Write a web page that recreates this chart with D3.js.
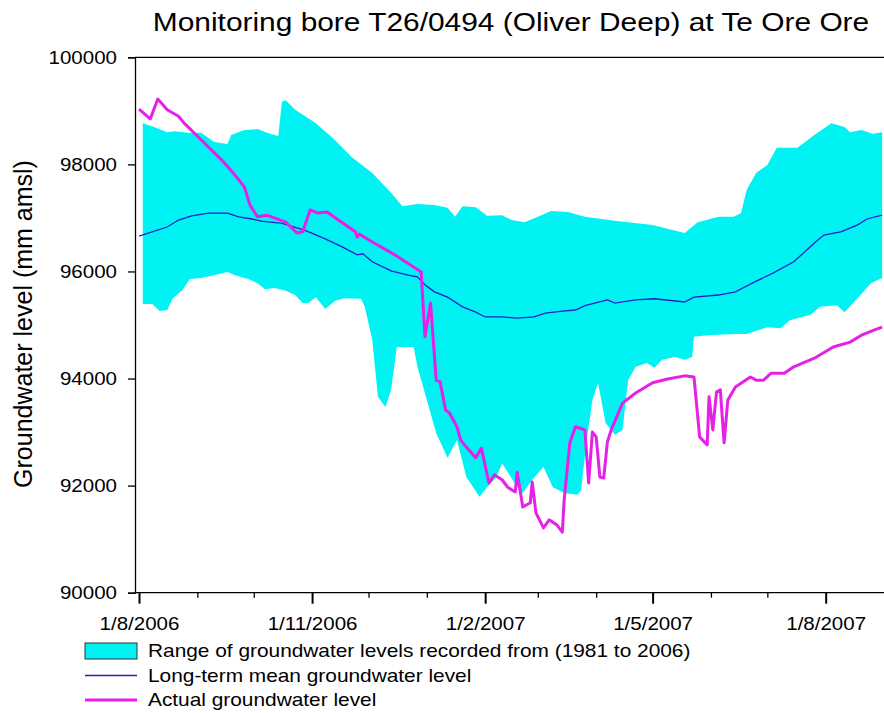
<!DOCTYPE html>
<meta charset="utf-8">
<style>

body {
  margin: 0;
  background: #fff;
}

text {
  font-family: "Liberation Sans", Arial, sans-serif;
  fill: #000;
}

</style>
<div id="chart"></div>
<script src="https://cdn.jsdelivr.net/npm/d3@7"></script>
<script>

var title = "Monitoring bore T26/0494 (Oliver Deep) at Te Ore Ore";
var yLabel = "Groundwater level (mm amsl)";

// days after 1/8/2006, levels in mm amsl
var rangeTopDays = [2, 8, 15, 19, 26, 33, 40, 47, 49, 56, 63, 68, 74, 76, 78, 83, 94, 104, 113, 124,
  134, 140, 148, 157, 164, 168, 172, 179, 185, 193, 198, 205, 212, 219, 228, 237, 255, 273, 290, 297,
  308, 316, 320, 323, 328, 334, 339, 350, 359, 368, 375, 378, 384, 390, 395];
var rangeTopLevels = [98770, 98700, 98600, 98620, 98590, 98590, 98420, 98380, 98550, 98640, 98660, 98590, 98530, 99170, 99200, 99020, 98770, 98460, 98140, 97840,
  97470, 97220, 97260, 97240, 97190, 97020, 97220, 97200, 97040, 97050, 96960, 96920, 97020, 97130, 97110, 97020, 96940, 96870, 96720, 96920,
  97020, 97020, 97090, 97520, 97840, 97990, 98310, 98310, 98550, 98770, 98700, 98600, 98640, 98570, 98600];

var rangeBottomDays = [2, 7, 11, 15, 18, 23, 27, 33, 40, 47, 51, 58, 63, 67, 72, 78, 83, 87, 90, 94,
  99, 104, 109, 118, 120, 124, 127, 131, 134, 137, 146, 148, 158, 164, 169, 174, 181, 185, 190, 193,
  201, 204, 209, 215, 220, 226, 233, 235, 238, 241, 244, 248, 253, 257, 260, 264, 270, 274, 278, 285,
  290, 294, 295, 302, 317, 323, 334, 341, 346, 357, 362, 371, 375, 382, 389, 395];
var rangeBottomLevels = [95390, 95390, 95260, 95280, 95500, 95650, 95860, 95880, 95930, 95990, 95930, 95860, 95780, 95670, 95690, 95640, 95560, 95410, 95410, 95520,
  95300, 95450, 95500, 95490, 95340, 94720, 93660, 93470, 93790, 94590, 94590, 94220, 92980, 92520, 92850, 92160, 91790, 91970, 92160, 92420,
  91970, 91860, 92110, 92350, 91970, 91860, 91830, 91920, 92850, 93600, 93920, 93170, 92950, 93040, 93970, 94220, 94290, 94200, 94350, 94400,
  94350, 94400, 94780, 94810, 94830, 94830, 94960, 94940, 95090, 95190, 95340, 95370, 95240, 95500, 95780, 95880];

var meanDays = [0, 7, 15, 21, 28, 37, 47, 53, 60, 65, 76, 88, 99, 108, 116, 119, 124, 134, 143, 148,
  152, 157, 164, 172, 179, 184, 193, 201, 210, 216, 225, 232, 237, 249, 253, 264, 274, 290, 295, 308,
  317, 327, 337, 348, 359, 364, 373, 382, 387, 395];
var meanLevels = [96660, 96740, 96830, 96960, 97040, 97090, 97090, 97020, 96980, 96940, 96900, 96770, 96610, 96460, 96310, 96330, 96180, 96010, 95930, 95900,
  95750, 95620, 95520, 95340, 95240, 95150, 95150, 95130, 95150, 95220, 95260, 95280, 95360, 95470, 95410, 95470, 95490, 95430, 95520, 95560,
  95620, 95800, 95970, 96180, 96530, 96680, 96740, 96870, 96980, 97050];

var actualDays = [0, 6, 10, 15, 21, 24, 33, 44, 51, 56, 59, 63, 68, 72, 78, 84, 87, 91, 95, 100,
  106, 115, 116, 117, 124, 136, 150, 152, 155, 156, 158, 160, 163, 165, 169, 171, 174, 179, 182, 186,
  189, 193, 196, 200, 201, 204, 208, 209, 211, 215, 218, 222, 225, 226, 229, 232, 237, 239, 241, 243,
  245, 247, 249, 251, 257, 264, 273, 281, 290, 295, 298, 302, 303, 305, 307, 309, 311, 313, 317, 325,
  328, 332, 336, 343, 348, 359, 369, 378, 384, 391, 395];
var actualLevels = [99030, 98850, 99220, 99020, 98900, 98770, 98460, 98080, 97800, 97580, 97240, 97020, 97050, 97000, 96920, 96720, 96740, 97150, 97090, 97110,
  96960, 96740, 96640, 96700, 96550, 96310, 95990, 94780, 95410, 94910, 93970, 93940, 93410, 93360, 93100, 92850, 92720, 92520, 92700, 92050,
  92200, 92110, 91970, 91880, 92250, 91600, 91680, 92070, 91490, 91210, 91360, 91270, 91130, 91730, 92800, 93100, 93040, 92050, 93000, 92910,
  92160, 92140, 92820, 93040, 93540, 93730, 93920, 93990, 94050, 94030, 92910, 92760, 93660, 93040, 93750, 93790, 92800, 93600, 93840, 94030,
  93970, 93970, 94100, 94100, 94220, 94380, 94590, 94680, 94810, 94910, 94960];

var yTicks = [90000, 92000, 94000, 96000, 98000, 100000];
var xTickLabels = ["1/8/2006", "1/11/2006", "1/2/2007", "1/5/2007", "1/8/2007"];
var legendLabels = ["Range of groundwater levels recorded from (1981 to 2006)",
  "Long-term mean groundwater level",
  "Actual groundwater level"];

var cyan = "#00f3f3", blue = "#2222cc", magenta = "#e620e6";
var stretch = "scale(1.14,1)";

var svg = d3.select("#chart").append("svg")
    .attr("width", 884)
    .attr("height", 713);

var parse = d3.timeParse("%d/%m/%Y"),
    startDate = parse("1/8/2006"),
    endDate = parse("1/9/2007"),
    plotLeft = 135, plotTop = 57.3, plotBottom = 592.7, plotRight = 884;

var x = d3.scaleTime()
    .domain([startDate, endDate])
    .range([139, plotRight]);

var y = d3.scaleLinear()
    .domain([90000, 100000])
    .range([plotBottom, plotTop]);

function pts(days, levels) {
  return days.map(function(d, i) { return [d3.timeDay.offset(startDate, d), levels[i]]; });
}

var line = d3.line()
    .x(function(d) { return x(d[0]); })
    .y(function(d) { return y(d[1]); });

// range band: top edge forward, bottom edge back
var band = pts(rangeTopDays, rangeTopLevels)
    .concat(pts(rangeBottomDays, rangeBottomLevels).reverse());

svg.append("path")
    .attr("d", line(band) + "Z")
    .attr("fill", cyan);

svg.append("path")
    .attr("d", line(pts(meanDays, meanLevels)))
    .attr("fill", "none")
    .attr("stroke", blue)
    .attr("stroke-width", 1.3);

svg.append("path")
    .attr("d", line(pts(actualDays, actualLevels)))
    .attr("fill", "none")
    .attr("stroke", magenta)
    .attr("stroke-width", 3)
    .attr("stroke-linejoin", "round");

// y axis
var yAxis = svg.append("g")
    .attr("transform", "translate(" + plotLeft + ",0)")
    .call(d3.axisLeft(y).tickValues(yTicks).tickSize(7).tickPadding(8.8).tickFormat(d3.format("d")));
yAxis.attr("font-size", null).attr("font-family", null);
yAxis.selectAll("text").style("font-size", "18px").attr("transform", stretch);
yAxis.selectAll("line, path").attr("stroke", "#000").attr("stroke-width", 1.3);

// x axis
var majors = xTickLabels.map(parse);
function isMajor(d) { return majors.some(function(m) { return +m === +d; }); }

var xAxis = svg.append("g")
    .attr("transform", "translate(0," + plotBottom + ")")
    .call(d3.axisBottom(x)
      .tickValues(d3.timeMonth.range(startDate, endDate))
      .tickSizeOuter(0)
      .tickSize(5)
      .tickPadding(20)
      .tickFormat(function(d) {
        var i = majors.findIndex(function(m) { return +m === +d; });
        return i < 0 ? "" : xTickLabels[i];
      }));
xAxis.attr("font-size", null).attr("font-family", null);
xAxis.select(".domain").remove();
xAxis.selectAll(".tick line")
    .attr("stroke", "#000")
    .attr("y2", function(d) { return isMajor(d) ? 11 : 5; })
    .attr("stroke-width", function(d) { return isMajor(d) ? 2 : 1.3; });
xAxis.selectAll("text").style("font-size", "18px").attr("transform", stretch);

svg.append("line")
    .attr("x1", plotLeft).attr("x2", plotRight)
    .attr("y1", plotBottom).attr("y2", plotBottom)
    .attr("stroke", "#000").attr("stroke-width", 1.3);

svg.append("line")
    .attr("x1", plotLeft).attr("x2", plotRight)
    .attr("y1", plotTop).attr("y2", plotTop)
    .attr("stroke", "#000").attr("stroke-width", 1.3);

// title and y label
svg.append("g")
    .attr("transform", "translate(511,31) scale(1.15,1)")
  .append("text")
    .attr("text-anchor", "middle")
    .style("font-size", "26px")
    .text(title);

svg.append("text")
    .attr("transform", "translate(32,324) rotate(-90)")
    .attr("text-anchor", "middle")
    .style("font-size", "25px")
    .text(yLabel);

// legend
var legend = svg.selectAll(".legend")
    .data(legendLabels)
  .enter().append("g")
    .attr("class", "legend")
    .attr("transform", function(d, i) { return "translate(0," + (651 + i * 24.5) + ")"; });

legend.each(function(d, i) {
  var g = d3.select(this);
  if (i === 0) {
    g.append("rect")
        .attr("x", 85).attr("y", -8)
        .attr("width", 52).attr("height", 16)
        .attr("fill", cyan)
        .attr("stroke", "#333")
        .attr("stroke-width", 1);
  } else {
    g.append("line")
        .attr("x1", 85).attr("x2", 137)
        .attr("stroke", i === 1 ? blue : magenta)
        .attr("stroke-width", i === 1 ? 1.3 : 3);
  }
  g.append("g")
      .attr("transform", "translate(148,0) " + stretch)
    .append("text")
      .attr("dy", "0.35em")
      .style("font-size", "18.3px")
      .text(d);
});

</script>
